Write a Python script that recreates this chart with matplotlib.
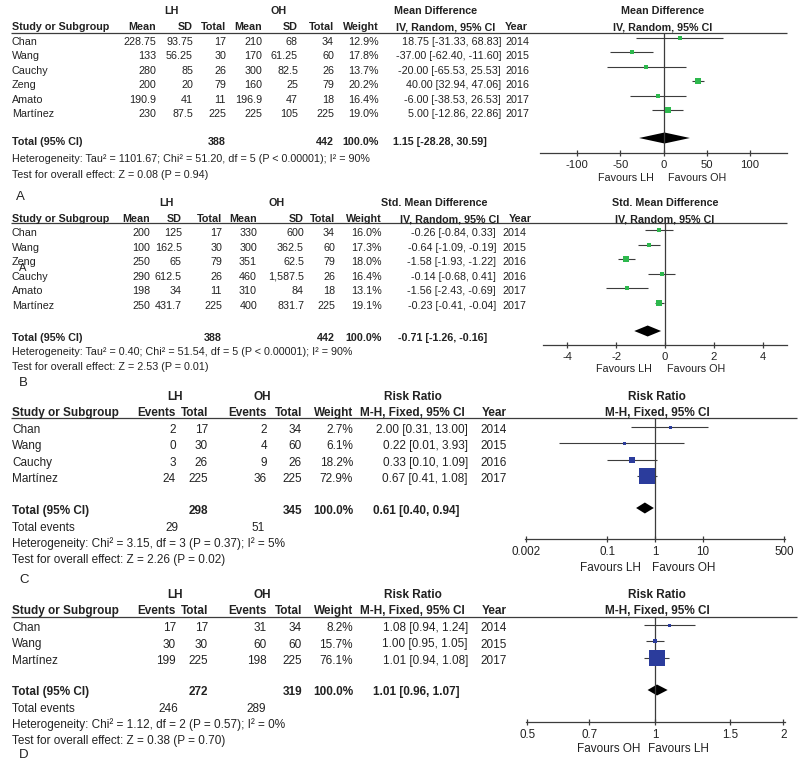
import numpy as np
import matplotlib.pyplot as plt
from matplotlib.ticker import NullLocator

plt.rcParams['font.family'] = ['Liberation Sans', 'DejaVu Sans']

# ---- panel A: mean difference, random effects
a_study = ['Chan', 'Wang', 'Cauchy', 'Zeng', 'Amato', 'Martínez']
a_lh_mean = [228.75, 133, 280, 200, 190.9, 230]
a_lh_sd = [93.75, 56.25, 85, 20, 41, 87.5]
a_lh_n = [17, 30, 26, 79, 11, 225]
a_oh_mean = [210, 170, 300, 160, 196.9, 225]
a_oh_sd = [68, 61.25, 82.5, 25, 47, 105]
a_oh_n = [34, 60, 26, 79, 18, 225]
a_weight = [12.9, 17.8, 13.7, 20.2, 16.4, 19.0]
a_est = [18.75, -37.00, -20.00, 40.00, -6.00, 5.00]
a_lo = [-31.33, -62.40, -65.53, 32.94, -38.53, -12.86]
a_hi = [68.83, -11.60, 25.53, 47.06, 26.53, 22.86]
a_year = [2014, 2015, 2016, 2016, 2017, 2017]
a_total = (388, 442, 1.15, -28.28, 30.59)
a_het = 'Heterogeneity: Tau² = 1101.67; Chi² = 51.20, df = 5 (P < 0.00001); I² = 90%'
a_test = 'Test for overall effect: Z = 0.08 (P = 0.94)'

# ---- panel B: std. mean difference, random effects
b_study = ['Chan', 'Wang', 'Zeng', 'Cauchy', 'Amato', 'Martínez']
b_lh_mean = [200, 100, 250, 290, 198, 250]
b_lh_sd = [125, 162.5, 65, 612.5, 34, 431.7]
b_lh_n = [17, 30, 79, 26, 11, 225]
b_oh_mean = [330, 300, 351, 460, 310, 400]
b_oh_sd = [600, 362.5, 62.5, 1587.5, 84, 831.7]
b_oh_n = [34, 60, 79, 26, 18, 225]
b_weight = [16.0, 17.3, 18.0, 16.4, 13.1, 19.1]
b_est = [-0.26, -0.64, -1.58, -0.14, -1.56, -0.23]
b_lo = [-0.84, -1.09, -1.93, -0.68, -2.43, -0.41]
b_hi = [0.33, -0.19, -1.22, 0.41, -0.69, -0.04]
b_year = [2014, 2015, 2016, 2016, 2017, 2017]
b_total = (388, 442, -0.71, -1.26, -0.16)
b_het = 'Heterogeneity: Tau² = 0.40; Chi² = 51.54, df = 5 (P < 0.00001); I² = 90%'
b_test = 'Test for overall effect: Z = 2.53 (P = 0.01)'

# ---- panel C: risk ratio, fixed
c_study = ['Chan', 'Wang', 'Cauchy', 'Martínez']
c_lh_ev = [2, 0, 3, 24]
c_lh_n = [17, 30, 26, 225]
c_oh_ev = [2, 4, 9, 36]
c_oh_n = [34, 60, 26, 225]
c_weight = [2.7, 6.1, 18.2, 72.9]
c_est = [2.00, 0.22, 0.33, 0.67]
c_lo = [0.31, 0.01, 0.10, 0.41]
c_hi = [13.00, 3.93, 1.09, 1.08]
c_year = [2014, 2015, 2016, 2017]
c_total = (298, 345, 0.61, 0.40, 0.94)
c_events = (29, 51)
c_het = 'Heterogeneity: Chi² = 3.15, df = 3 (P = 0.37); I² = 5%'
c_test = 'Test for overall effect: Z = 2.26 (P = 0.02)'

# ---- panel D: risk ratio, fixed
d_study = ['Chan', 'Wang', 'Martínez']
d_lh_ev = [17, 30, 199]
d_lh_n = [17, 30, 225]
d_oh_ev = [31, 60, 198]
d_oh_n = [34, 60, 225]
d_weight = [8.2, 15.7, 76.1]
d_est = [1.08, 1.00, 1.01]
d_lo = [0.94, 0.95, 0.94]
d_hi = [1.24, 1.05, 1.08]
d_year = [2014, 2015, 2017]
d_total = (272, 319, 1.01, 0.96, 1.07)
d_events = (246, 289)
d_het = 'Heterogeneity: Chi² = 1.12, df = 2 (P = 0.57); I² = 0%'
d_test = 'Test for overall effect: Z = 0.38 (P = 0.70)'

W, H = 800, 768
INK = '#222222'
LINE = '#3c3c3c'
GREEN = '#2db84d'
BLUE = '#2b3c9c'

fig = plt.figure(figsize=(8, 7.68), dpi=100)
tx = fig.add_axes([0, 0, 1, 1])
tx.set_xlim(0, W)
tx.set_ylim(H, 0)
tx.axis('off')


def put(x, y, s, fs, ha='left', bold=False):
    tx.text(x, y, s, fontsize=fs, ha=ha, va='center', color=INK,
            fontweight='bold' if bold else 'normal')


def ci(e, l, h):
    return f'{e:.2f} [{l:.2f}, {h:.2f}]'


def rows(y0, dy, cols, fs):
    for vals, x, ha in cols:
        for i, v in enumerate(vals):
            put(x, y0 + i * dy, v, fs, ha)


def forest(x0, x1, ytop, yaxis, xlim, scale, ticks, tlabels, null,
           ys, est, lo, hi, wts, color, ydia, tot, fs):
    ax = fig.add_axes([x0 / W, 1 - yaxis / H, (x1 - x0) / W, (yaxis - ytop) / H])
    ax.set_xscale(scale)
    ax.set_xlim(*xlim)
    ax.set_ylim(yaxis, ytop)
    ax.patch.set_alpha(0)
    for s in ['top', 'left', 'right']:
        ax.spines[s].set_visible(False)
    ax.spines['bottom'].set_color(LINE)
    ax.spines['bottom'].set_linewidth(0.9)
    ax.set_yticks([])
    ax.set_xticks(ticks)
    ax.set_xticklabels(tlabels, fontsize=fs, color=INK)
    ax.xaxis.set_minor_locator(NullLocator())
    ax.tick_params(axis='x', direction='inout', length=5, width=0.9, color=LINE, pad=2.5)
    ax.axvline(null, color=LINE, lw=0.9)
    ax.hlines(ys, lo, hi, color=LINE, lw=0.8)
    for y, e, w in zip(ys, est, wts):
        ax.plot(e, y, 's', ms=max(3, 0.51 * w ** 0.79) * 0.72, color=color, mew=0, clip_on=False)
    e, l, h = tot
    ax.fill([l, e, h, e], [ydia, ydia - 5.5, ydia, ydia + 5.5], color='black', lw=0, clip_on=False)
    return ax


# ================= A =================
fs = 7.75
put(171, 11, 'LH', fs, 'center', True)
put(279, 11, 'OH', fs, 'center', True)
put(436, 11, 'Mean Difference', fs, 'center', True)
put(663, 11, 'Mean Difference', fs, 'center', True)
for s, x, ha in [('Study or Subgroup', 12, 'left'), ('Mean', 156, 'right'), ('SD', 193, 'right'),
                 ('Total', 226, 'right'), ('Mean', 262, 'right'), ('SD', 298, 'right'),
                 ('Total', 334, 'right'), ('Weight', 379, 'right'),
                 ('IV, Random, 95% CI', 446, 'center'), ('Year', 505, 'left'),
                 ('IV, Random, 95% CI', 663, 'center')]:
    put(x, 27, s, fs, ha, True)
tx.hlines(32.5, 11, 787, color=LINE, lw=0.9)
rows(42, 14.4, [(a_study, 12, 'left'),
                ([f'{v:,}' for v in a_lh_mean], 156, 'right'),
                ([f'{v:,}' for v in a_lh_sd], 193, 'right'),
                ([str(v) for v in a_lh_n], 226, 'right'),
                ([f'{v:,}' for v in a_oh_mean], 262, 'right'),
                ([f'{v:,}' for v in a_oh_sd], 298, 'right'),
                ([str(v) for v in a_oh_n], 334, 'right'),
                ([f'{v:.1f}%' for v in a_weight], 379, 'right'),
                ([ci(*t) for t in zip(a_est, a_lo, a_hi)], 501, 'right'),
                ([str(v) for v in a_year], 505, 'left')], fs)
put(12, 142, 'Total (95% CI)', fs, 'left', True)
put(226, 142, str(a_total[0]), fs, 'right', True)
put(334, 142, str(a_total[1]), fs, 'right', True)
put(379, 142, '100.0%', fs, 'right', True)
put(393, 142, ci(*a_total[2:]), fs, 'left', True)
put(12, 159, a_het, fs)
put(12, 175, a_test, fs)
put(654, 178, 'Favours LH', fs, 'right')
put(668, 178, 'Favours OH', fs, 'left')
put(16, 197, 'A', 9.5)
forest(540, 787, 32.5, 153, (-143, 143), 'linear', [-100, -50, 0, 50, 100],
       ['-100', '-50', '0', '50', '100'], 0,
       [42 + i * 14.4 - 4 for i in range(len(a_est))], a_est, a_lo, a_hi, a_weight,
       GREEN, 138, a_total[2:], 8.1)

# ================= B =================
put(166, 203, 'LH', fs, 'center', True)
put(277, 203, 'OH', fs, 'center', True)
put(434, 203, 'Std. Mean Difference', fs, 'center', True)
put(665, 203, 'Std. Mean Difference', fs, 'center', True)
for s, x, ha in [('Study or Subgroup', 12, 'left'), ('Mean', 150, 'right'), ('SD', 182, 'right'),
                 ('Total', 222, 'right'), ('Mean', 257, 'right'), ('SD', 304, 'right'),
                 ('Total', 335, 'right'), ('Weight', 382, 'right'),
                 ('IV, Random, 95% CI', 450, 'center'), ('Year', 509, 'left'),
                 ('IV, Random, 95% CI', 665, 'center')]:
    put(x, 219, s, fs, ha, True)
tx.hlines(222.5, 11, 787, color=LINE, lw=0.9)
rows(233, 14.6, [(b_study, 12, 'left'),
                 ([f'{v:,}' for v in b_lh_mean], 150, 'right'),
                 ([f'{v:,}' for v in b_lh_sd], 182, 'right'),
                 ([str(v) for v in b_lh_n], 222, 'right'),
                 ([f'{v:,}' for v in b_oh_mean], 257, 'right'),
                 ([f'{v:,}' for v in b_oh_sd], 304, 'right'),
                 ([str(v) for v in b_oh_n], 335, 'right'),
                 ([f'{v:.1f}%' for v in b_weight], 382, 'right'),
                 ([ci(*t) for t in zip(b_est, b_lo, b_hi)], 496, 'right'),
                 ([str(v) for v in b_year], 502, 'left')], fs)
put(19, 268, 'A', 8)
put(12, 338, 'Total (95% CI)', fs, 'left', True)
put(222, 338, str(b_total[0]), fs, 'right', True)
put(335, 338, str(b_total[1]), fs, 'right', True)
put(382, 338, '100.0%', fs, 'right', True)
put(398, 338, ci(*b_total[2:]), fs, 'left', True)
put(12, 352, b_het, fs)
put(12, 367, b_test, fs)
put(652, 369, 'Favours LH', fs, 'right')
put(667, 369, 'Favours OH', fs, 'left')
put(19, 383, 'B', 9.5)
forest(543, 787, 222.5, 345, (-5, 5), 'linear', [-4, -2, 0, 2, 4],
       ['-4', '-2', '0', '2', '4'], 0,
       [233 + i * 14.6 - 3 for i in range(len(b_est))], b_est, b_lo, b_hi, b_weight,
       GREEN, 331, b_total[2:], 8.1)

# ================= C =================
fs = 8.5
put(175, 397, 'LH', fs, 'center', True)
put(262, 397, 'OH', fs, 'center', True)
put(413, 397, 'Risk Ratio', fs, 'center', True)
put(657, 397, 'Risk Ratio', fs, 'center', True)
rr_hdr = [('Study or Subgroup', 12, 'left'), ('Events', 176, 'right'), ('Total', 208, 'right'),
          ('Events', 267, 'right'), ('Total', 302, 'right'), ('Weight', 353, 'right'),
          ('M-H, Fixed, 95% CI', 412, 'center'), ('Year', 482, 'left'),
          ('M-H, Fixed, 95% CI', 657, 'center')]
for s, x, ha in rr_hdr:
    put(x, 413, s, fs, ha, True)
tx.hlines(417.5, 11, 797, color=LINE, lw=0.9)
rows(430, 16.3, [(c_study, 12, 'left'),
                 ([str(v) for v in c_lh_ev], 176, 'right'),
                 ([str(v) for v in c_lh_n], 208, 'right'),
                 ([str(v) for v in c_oh_ev], 267, 'right'),
                 ([str(v) for v in c_oh_n], 302, 'right'),
                 ([f'{v:.1f}%' for v in c_weight], 353, 'right'),
                 ([ci(*t) for t in zip(c_est, c_lo, c_hi)], 468, 'right'),
                 ([str(v) for v in c_year], 480, 'left')], fs)
put(12, 511, 'Total (95% CI)', fs, 'left', True)
put(208, 511, str(c_total[0]), fs, 'right', True)
put(302, 511, str(c_total[1]), fs, 'right', True)
put(353, 511, '100.0%', fs, 'right', True)
put(373, 511, ci(*c_total[2:]), fs, 'left', True)
put(12, 528, 'Total events', fs)
put(178, 528, str(c_events[0]), fs, 'right')
put(265, 528, str(c_events[1]), fs, 'right')
put(12, 544, c_het, fs)
put(12, 560, c_test, fs)
put(641, 568, 'Favours LH', fs, 'right')
put(652, 568, 'Favours OH', fs, 'left')
put(19, 580, 'C', 9.5)
forest(525, 785, 417.5, 539, (0.0019, 520), 'log', [0.002, 0.1, 1, 10, 500],
       ['0.002', '0.1', '1', '10', '500'], 1,
       [430 + i * 16.3 - 3 for i in range(len(c_est))], c_est, c_lo, c_hi, c_weight,
       BLUE, 508, c_total[2:], 8.4)

# ================= D =================
put(175, 595, 'LH', fs, 'center', True)
put(262, 595, 'OH', fs, 'center', True)
put(413, 595, 'Risk Ratio', fs, 'center', True)
put(657, 595, 'Risk Ratio', fs, 'center', True)
for s, x, ha in rr_hdr:
    put(x, 611, s, fs, ha, True)
tx.hlines(616.5, 11, 797, color=LINE, lw=0.9)
rows(628, 16.5, [(d_study, 12, 'left'),
                 ([str(v) for v in d_lh_ev], 176, 'right'),
                 ([str(v) for v in d_lh_n], 208, 'right'),
                 ([str(v) for v in d_oh_ev], 267, 'right'),
                 ([str(v) for v in d_oh_n], 302, 'right'),
                 ([f'{v:.1f}%' for v in d_weight], 353, 'right'),
                 ([ci(*t) for t in zip(d_est, d_lo, d_hi)], 468, 'right'),
                 ([str(v) for v in d_year], 480, 'left')], fs)
put(12, 692, 'Total (95% CI)', fs, 'left', True)
put(208, 692, str(d_total[0]), fs, 'right', True)
put(302, 692, str(d_total[1]), fs, 'right', True)
put(353, 692, '100.0%', fs, 'right', True)
put(373, 692, ci(*d_total[2:]), fs, 'left', True)
put(12, 709, 'Total events', fs)
put(178, 709, str(d_events[0]), fs, 'right')
put(266, 709, str(d_events[1]), fs, 'right')
put(12, 725, d_het, fs)
put(12, 741, d_test, fs)
put(640, 749, 'Favours OH', fs, 'right')
put(648, 749, 'Favours LH', fs, 'left')
put(19, 755, 'D', 9.5)
forest(526, 785, 616.5, 722, (0.497, 2.02), 'log', [0.5, 0.7, 1, 1.5, 2],
       ['0.5', '0.7', '1', '1.5', '2'], 1,
       [628 + i * 16.5 - 3 for i in range(len(d_est))], d_est, d_lo, d_hi, d_weight,
       BLUE, 690, d_total[2:], 8.4)

fig.savefig('out.png', dpi=100)
